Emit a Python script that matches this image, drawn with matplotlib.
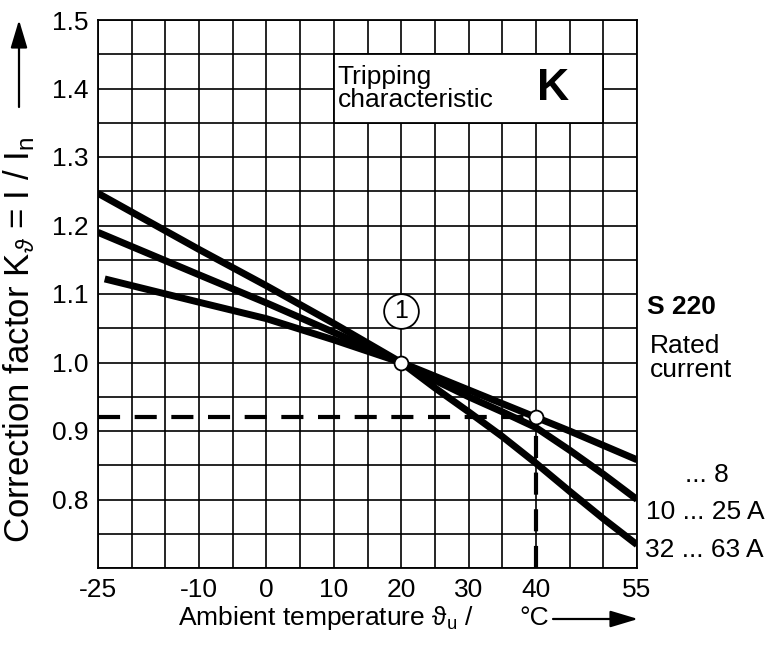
"""Correction factor vs ambient temperature, S 220 tripping characteristic K."""

import matplotlib

matplotlib.use("Agg")
import matplotlib.pyplot as plt
from matplotlib.patches import Rectangle

plt.rcParams["font.family"] = ["Liberation Sans", "DejaVu Sans"]
plt.rcParams["mathtext.fontset"] = "custom"
plt.rcParams["mathtext.rm"] = "Liberation Sans"
plt.rcParams["mathtext.it"] = "Liberation Sans:italic"

# Curves (ambient temperature in degC -> correction factor)
temp_small = [-24, -10, 0, 10, 20, 30, 40, 45, 50, 55]
k_small = [1.122, 1.088, 1.064, 1.033, 1.0, 0.96, 0.92, 0.9, 0.879, 0.858]  # ... 8

temp_mid = [-25, -10, 0, 10, 20, 25, 30, 35, 40, 45, 50, 55]
k_mid = [1.19, 1.128, 1.087, 1.044, 1.0, 0.974, 0.95, 0.928, 0.905, 0.872, 0.837, 0.80]  # 10 ... 25 A

temp_big = [-25, -10, 0, 10, 20, 25, 30, 35, 40, 45, 50, 55]
k_big = [1.247, 1.165, 1.112, 1.057, 1.0, 0.963, 0.928, 0.892, 0.853, 0.812, 0.772, 0.734]  # 32 ... 63 A

# Worked example: 20 degC reference, 40 degC reading
ref_point = (20, 1.0)
example_point = (40, 0.92)

x_ticks = list(range(-25, 56, 5))
x_labels = {-25: "-25", -10: "-10", 0: "0", 10: "10", 20: "20", 30: "30", 40: "40", 55: "55"}
y_ticks = [round(0.70 + 0.05 * i, 2) for i in range(17)]
y_labels = {0.8: "0.8", 0.9: "0.9", 1.0: "1.0", 1.1: "1.1", 1.2: "1.2", 1.3: "1.3", 1.4: "1.4", 1.5: "1.5"}

W, H = 771, 646
fig = plt.figure(figsize=(W / 100, H / 100), dpi=100)
ax = fig.add_axes([98 / W, 1 - 568 / H, (637 - 98) / W, (568 - 20) / H])

ax.set_xlim(-25, 55)
ax.set_ylim(0.70, 1.50)
ax.set_xticks(x_ticks)
ax.set_xticklabels([x_labels.get(t, "") for t in x_ticks])
ax.set_yticks(y_ticks)
ax.set_yticklabels([y_labels.get(t, "") for t in y_ticks])
ax.tick_params(length=0, labelsize=19, pad=7)
ax.grid(True, color="black", linewidth=1.2)
ax.set_axisbelow(True)
for s in ax.spines.values():
    s.set_linewidth(1.3)

# text box covering grid
ax.add_patch(Rectangle((10, 1.35), 40, 0.10, facecolor="white", edgecolor="black",
                       linewidth=1.3, zorder=2))
ax.text(10.6, 1.40, "Tripping\ncharacteristic", fontsize=19, va="center", ha="left",
        linespacing=0.95, zorder=3)
ax.text(42.5, 1.40, "K", fontsize=32, fontweight="bold", va="center", ha="center", zorder=3)

# curves
for t, k in [(temp_small, k_small), (temp_mid, k_mid), (temp_big, k_big)]:
    ax.plot(t, k, color="black", linewidth=5, solid_capstyle="butt", zorder=4)

# dashed construction lines
hl, = ax.plot([-25, example_point[0]], [example_point[1]] * 2, color="black", lw=3, zorder=3)
vl, = ax.plot([example_point[0]] * 2, [0.70, example_point[1]], color="black", lw=3, zorder=3)
for ln in (hl, vl):
    ln.set_dashes((5.3, 3.5))

ax.plot(*zip(ref_point, example_point), linestyle="none", marker="o", markersize=10,
        markerfacecolor="white", markeredgecolor="black", markeredgewidth=1.3, zorder=5)

# circled 1
ax.plot([20], [1.075], marker="o", markersize=25, markerfacecolor="white",
        markeredgecolor="black", markeredgewidth=1.3, zorder=5)
ax.text(20, 1.075, "1", fontsize=18, ha="center", va="center", zorder=6)

# right-side labels
fig.text(647 / W, 1 - 307 / H, "S 220", fontsize=19, fontweight="bold", va="center")
fig.text(650 / W, 1 - 358 / H, "Rated\ncurrent", fontsize=19, va="center", linespacing=0.95)
fig.text(685 / W, 1 - 475 / H, "... 8", fontsize=19, va="center")
fig.text(646 / W, 1 - 512 / H, "10 ... 25 A", fontsize=19, va="center")
fig.text(645 / W, 1 - 550 / H, "32 ... 63 A", fontsize=19, va="center")

# axis labels with arrows
arrow_style = dict(arrowstyle="-|>,head_length=1.0,head_width=0.3", color="black",
                   lw=1.6, mutation_scale=17, shrinkA=0, shrinkB=0)
fig.text(178 / W, 1 - 618 / H, "Ambient temperature ϑ$_\\mathrm{u}$ /",
         fontsize=19, va="center", ha="left")
fig.text(519 / W, 1 - 618 / H, "°C", fontsize=19, va="center", ha="left")
ax.annotate("", xy=(638 / W, 1 - 619 / H), xytext=(553 / W, 1 - 619 / H),
            xycoords="figure fraction", textcoords="figure fraction", arrowprops=arrow_style)

fig.text(19 / W, 1 - 340 / H, r"Correction factor K$_\vartheta$ = I / I$_\mathrm{n}$",
         fontsize=25, rotation=90, va="center", ha="center")
ax.annotate("", xy=(19 / W, 1 - 20 / H), xytext=(19 / W, 1 - 107 / H),
            xycoords="figure fraction", textcoords="figure fraction", arrowprops=arrow_style)

fig.savefig("out.png", dpi=100)
